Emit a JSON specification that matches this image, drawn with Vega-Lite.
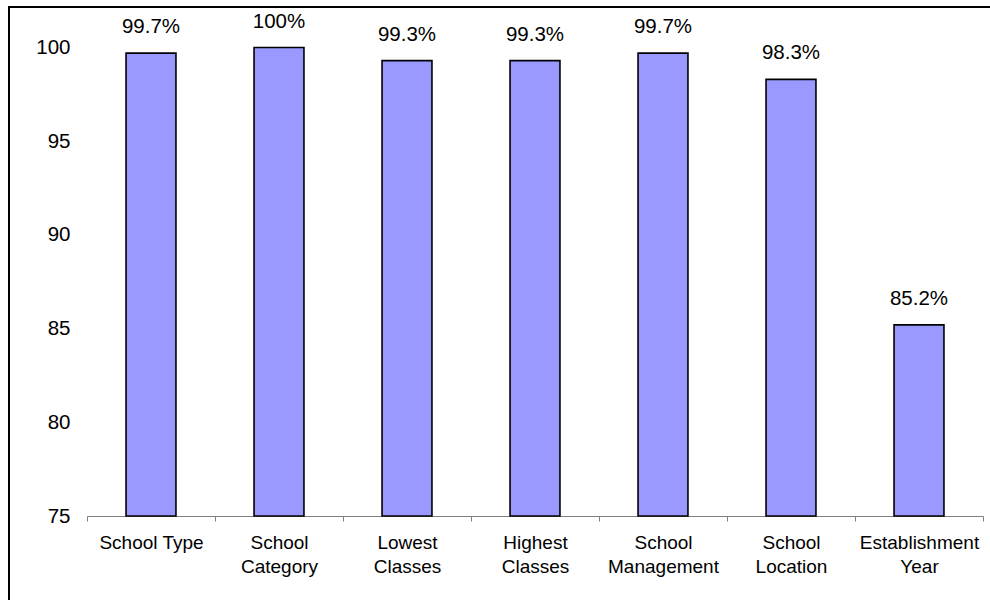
{
  "$schema": "https://vega.github.io/schema/vega-lite/v6.json",
  "autosize": "none",
  "width": 983,
  "height": 595,
  "padding": {"left": 9, "top": 7, "right": -2, "bottom": -2},
  "background": "white",
  "config": {
    "view": {"stroke": "black", "strokeWidth": 2},
    "font": "Liberation Sans"
  },
  "data": {
    "values": [
      {"item": "School Type", "value": 99.7},
      {"item": "School Category", "value": 100},
      {"item": "Lowest Classes", "value": 99.3},
      {"item": "Highest Classes", "value": 99.3},
      {"item": "School Management", "value": 99.7},
      {"item": "School Location", "value": 98.3},
      {"item": "Establishment Year", "value": 85.2}
    ]
  },
  "encoding": {
    "x": {
      "field": "item",
      "type": "nominal",
      "sort": null,
      "scale": {"paddingInner": 0, "paddingOuter": 0, "range": [78, 974]},
      "axis": {
        "title": null,
        "offset": -86,
        "labelAngle": 0,
        "labelFont": "Liberation Sans",
        "labelFontSize": 19,
        "labelColor": "black",
        "labelLineHeight": 24,
        "labelPadding": 12,
        "labelExpr": "datum.label == 'School Type' ? datum.label : split(datum.label, ' ')",
        "tickBand": "extent",
        "tickSize": 5,
        "tickColor": "#808080",
        "domainColor": "#808080",
        "grid": false
      }
    },
    "y": {
      "field": "value",
      "type": "quantitative",
      "scale": {"domain": [75, 100], "nice": false, "zero": false, "range": [509, 40.5]},
      "axis": {
        "title": null,
        "offset": -78,
        "values": [75, 80, 85, 90, 95, 100],
        "domain": false,
        "ticks": false,
        "grid": false,
        "labelFont": "Liberation Sans",
        "labelFontSize": 20.5,
        "labelColor": "black",
        "labelPadding": 17
      }
    }
  },
  "layer": [
    {
      "mark": {
        "type": "bar",
        "width": {"band": 0.39},
        "fill": "#9999FF",
        "stroke": "black",
        "strokeWidth": 1.6
      },
      "encoding": {"y2": {"datum": 75}}
    },
    {
      "transform": [
        {"calculate": "format(datum.value, '.1~f') + '%'", "as": "label"}
      ],
      "mark": {
        "type": "text",
        "baseline": "alphabetic",
        "dy": -20,
        "font": "Liberation Sans",
        "fontSize": 20.5,
        "color": "black"
      },
      "encoding": {"text": {"field": "label"}}
    }
  ]
}
